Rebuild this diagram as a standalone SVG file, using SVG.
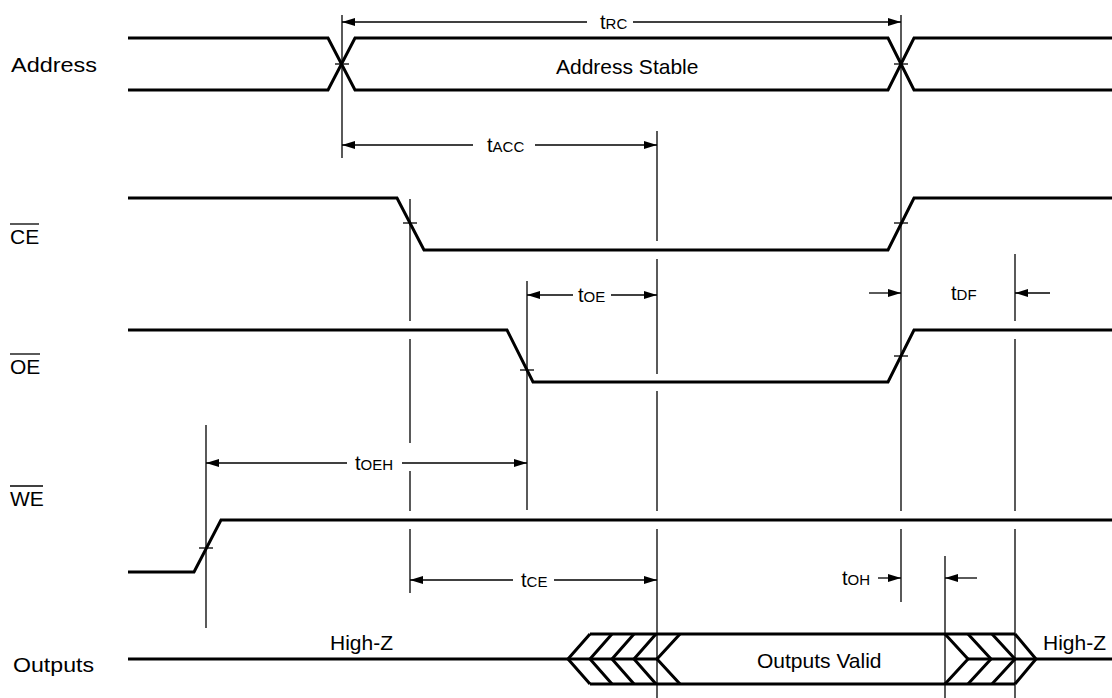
<svg xmlns="http://www.w3.org/2000/svg" width="1112" height="698" viewBox="0 0 1112 698">
<style>
.sig{fill:none;stroke:#000;stroke-width:3;stroke-linejoin:miter;stroke-linecap:butt}
.thin{fill:none;stroke:#000;stroke-width:1.3}
.dim{fill:none;stroke:#000;stroke-width:1.3;marker-end:url(#ah)}
text{font-family:"Liberation Sans",Arial,Helvetica,sans-serif;fill:#000}
.lbl{font-size:21px}
.t{font-size:20px}
.s{font-size:15px}
</style>
<defs>
<marker id="ah" markerUnits="userSpaceOnUse" markerWidth="13" markerHeight="8" refX="13" refY="4" orient="auto">
<path d="M0,0 L13,4 L0,8 z" fill="#000"/>
</marker>
</defs>
<rect width="1112" height="698" fill="#fff"/>

<g id="labels">
<text class="lbl" x="11" y="72" textLength="86" lengthAdjust="spacingAndGlyphs">Address</text>
<text class="lbl" x="10" y="244">CE</text>
<line class="thin" x1="10" y1="224" x2="39" y2="224"/>
<text class="lbl" x="10" y="374">OE</text>
<line class="thin" x1="10" y1="354" x2="40" y2="354"/>
<text class="lbl" x="10" y="506">WE</text>
<line class="thin" x1="10" y1="486" x2="43" y2="486"/>
<text class="lbl" x="13" y="672" textLength="81" lengthAdjust="spacingAndGlyphs">Outputs</text>
</g>

<g id="address">
<polyline class="sig" points="128,38 328,38 355,90 888,90 914,38 1112,38"/>
<polyline class="sig" points="128,90 328,90 355,38 888,38 914,90 1112,90"/>
<text class="lbl" x="556" y="74">Address Stable</text>
</g>

<g id="ce">
<polyline class="sig" points="128,198 397,198 424,250 888,250 914,198 1112,198"/>
</g>

<g id="oe">
<polyline class="sig" points="128,330 507,330 533,382 888,382 914,330 1112,330"/>
</g>

<g id="we">
<polyline class="sig" points="128,572 194,572 221,520 1112,520"/>
</g>

<g id="outputs">
<polyline class="sig" points="128,659 657,659"/>
<polyline class="sig" points="968,659 1112,659"/>
<polyline class="sig" points="590,634 1015,634"/>
<polyline class="sig" points="590,684 1015,684"/>
<polyline class="sig" points="590,634 568,659 590,684"/>
<polyline class="sig" points="612,634 590,659 612,684"/>
<polyline class="sig" points="634,634 612,659 634,684"/>
<polyline class="sig" points="656,634 634,659 656,684"/>
<polyline class="sig" points="680,634 657,659 680,684"/>
<polyline class="sig" points="945,634 968,659 945,684"/>
<polyline class="sig" points="968,634 991,659 968,684"/>
<polyline class="sig" points="992,634 1015,659 992,684"/>
<polyline class="sig" points="1015,634 1036,659 1015,684"/>
<text class="lbl" x="330" y="650">High-Z</text>
<text class="lbl" x="1043" y="650">High-Z</text>
<text class="lbl" x="757" y="668">Outputs Valid</text>
</g>

<g id="connectors">
<line class="thin" x1="342" y1="15" x2="342" y2="158"/>
<line class="thin" x1="901" y1="15" x2="901" y2="511"/>
<line class="thin" x1="901" y1="529" x2="901" y2="602"/>
<line class="thin" x1="410" y1="199" x2="410" y2="321"/>
<line class="thin" x1="410" y1="339" x2="410" y2="443"/>
<line class="thin" x1="410" y1="471" x2="410" y2="511"/>
<line class="thin" x1="410" y1="529" x2="410" y2="593"/>
<line class="thin" x1="527" y1="281" x2="527" y2="510"/>
<line class="thin" x1="657" y1="131" x2="657" y2="241"/>
<line class="thin" x1="657" y1="259" x2="657" y2="374"/>
<line class="thin" x1="657" y1="391" x2="657" y2="511"/>
<line class="thin" x1="657" y1="529" x2="657" y2="698"/>
<line class="thin" x1="1015" y1="254" x2="1015" y2="321"/>
<line class="thin" x1="1015" y1="339" x2="1015" y2="511"/>
<line class="thin" x1="1015" y1="529" x2="1015" y2="698"/>
<line class="thin" x1="945" y1="556" x2="945" y2="698"/>
<line class="thin" x1="206" y1="425" x2="206" y2="628"/>
<line class="thin" x1="335" y1="64" x2="349" y2="64"/>
<line class="thin" x1="894" y1="64" x2="908" y2="64"/>
<line class="thin" x1="403" y1="223" x2="417" y2="223"/>
<line class="thin" x1="894" y1="223" x2="908" y2="223"/>
<line class="thin" x1="520" y1="370" x2="534" y2="370"/>
<line class="thin" x1="894" y1="356" x2="908" y2="356"/>
<line class="thin" x1="199" y1="548" x2="213" y2="548"/>
<line class="dim" x1="587" y1="22" x2="342" y2="22"/>
<line class="dim" x1="633" y1="22" x2="901" y2="22"/>
<line class="dim" x1="473" y1="145" x2="342" y2="145"/>
<line class="dim" x1="535" y1="145" x2="657" y2="145"/>
<line class="dim" x1="573" y1="295" x2="527" y2="295"/>
<line class="dim" x1="611" y1="295" x2="657" y2="295"/>
<line class="dim" x1="869" y1="293" x2="901" y2="293"/>
<line class="dim" x1="1050" y1="293" x2="1015" y2="293"/>
<line class="dim" x1="347" y1="463" x2="206" y2="463"/>
<line class="dim" x1="402" y1="463" x2="527" y2="463"/>
<line class="dim" x1="513" y1="580" x2="410" y2="580"/>
<line class="dim" x1="554" y1="580" x2="657" y2="580"/>
<line class="dim" x1="878" y1="578" x2="901" y2="578"/>
<line class="dim" x1="977" y1="578" x2="945" y2="578"/>
</g>

<g id="timing-labels">
<text class="t" x="600" y="29">t<tspan class="s">RC</tspan></text>
<text class="t" x="487" y="152">t<tspan class="s">ACC</tspan></text>
<text class="t" x="578" y="302">t<tspan class="s">OE</tspan></text>
<text class="t" x="951" y="300">t<tspan class="s">DF</tspan></text>
<text class="t" x="355" y="470">t<tspan class="s">OEH</tspan></text>
<text class="t" x="521" y="587">t<tspan class="s">CE</tspan></text>
<text class="t" x="842" y="585">t<tspan class="s">OH</tspan></text>
</g>
</svg>
